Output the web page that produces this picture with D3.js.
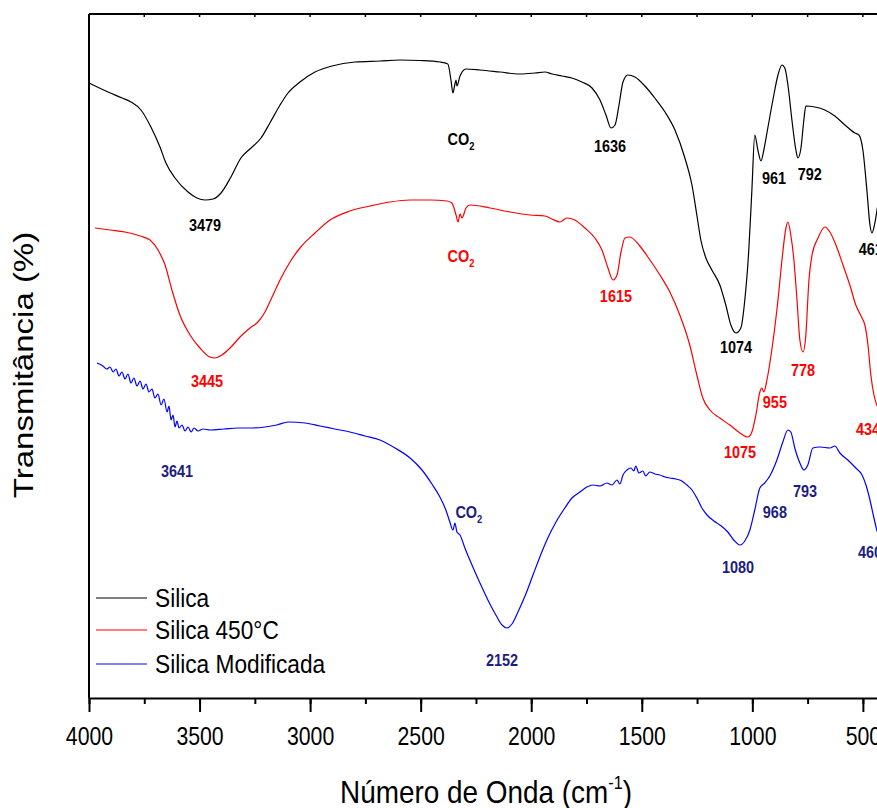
<!DOCTYPE html>
<html>
<head>
<meta charset="utf-8">
<script src="https://cdn.jsdelivr.net/npm/d3@7"></script>
<style>
  body { margin: 0; background: #fff; }
  svg { display: block; font-family: Arial, "Liberation Sans", sans-serif; }
</style>
</head>
<body>
<svg id="chart" width="877" height="808"></svg>
<script>
// Séries : [nombre d'onde (cm-1), transmittance (u.a.)]
const silica = [
  [4000, 61.4], [3914, 60.5], [3850, 59.9], [3810, 59.5], [3765, 58.7], [3720, 57.0],
  [3679, 55.0], [3652, 53.4], [3611, 51.9], [3552, 50.5], [3512, 49.9], [3475, 49.7],
  [3439, 49.8], [3403, 50.4], [3358, 52.0], [3313, 53.9], [3267, 54.9], [3222, 55.9],
  [3182, 57.4], [3136, 59.2], [3100, 60.4], [3046, 61.5], [2978, 62.5], [2901, 63.1],
  [2797, 63.5], [2684, 63.6], [2594, 63.7], [2503, 63.65], [2413, 63.5], [2377, 63.3],
  [2363, 61.7], [2354, 60.4], [2345, 61.3], [2340, 61.7], [2336, 61.1], [2322, 62.1],
  [2295, 62.8], [2232, 62.7], [2141, 62.5], [2051, 62.3], [1983, 62.4], [1938, 62.5],
  [1906, 62.3], [1861, 62.1], [1816, 61.9], [1771, 61.5], [1725, 60.9], [1689, 59.7],
  [1662, 58.2], [1639, 56.9], [1621, 57.2], [1603, 59.2], [1585, 61.5], [1563, 62.2],
  [1531, 62.0], [1486, 61.1], [1441, 59.9], [1395, 58.5], [1350, 56.7], [1305, 53.9],
  [1273, 51.2], [1251, 48.2], [1233, 45.7], [1210, 43.9], [1183, 42.7], [1147, 41.2],
  [1120, 39.2], [1097, 37.2], [1074, 36.4], [1052, 36.9], [1034, 39.7], [1016, 44.7],
  [1002, 50.7], [989, 56.2], [975, 54.7], [961, 53.6], [948, 54.7], [930, 56.9],
  [907, 59.7], [884, 62.2], [866, 63.2], [853, 62.9], [839, 61.2], [821, 57.7],
  [803, 54.7], [794, 53.9], [780, 54.9], [767, 57.7], [758, 59.1], [717, 59.0],
  [672, 58.7], [627, 58.1], [581, 57.2], [536, 56.4], [518, 56.2], [500, 54.7],
  [482, 50.7], [468, 47.2], [459, 46.4], [445, 47.5], [432, 49.2], [420, 50.0]
];

const silica450 = [
  [3973, 46.9], [3905, 46.7], [3837, 46.5], [3769, 46.1], [3724, 45.7], [3688, 44.7],
  [3656, 43.2], [3625, 40.7], [3589, 38.2], [3543, 36.2], [3498, 34.9], [3453, 34.0],
  [3430, 33.9], [3399, 34.2], [3362, 34.9], [3317, 36.0], [3272, 36.9], [3236, 37.5],
  [3204, 38.5], [3172, 40.0], [3136, 41.7], [3091, 43.5], [3046, 44.9], [2978, 46.4],
  [2910, 47.7], [2820, 48.6], [2729, 49.1], [2639, 49.5], [2548, 49.7], [2458, 49.7],
  [2381, 49.6], [2359, 49.4], [2340, 48.2], [2331, 47.5], [2322, 48.3], [2313, 47.9],
  [2295, 48.9], [2277, 49.2], [2187, 48.9], [2096, 48.5], [2006, 48.2], [1938, 48.1],
  [1906, 47.8], [1870, 47.5], [1839, 47.9], [1803, 47.7], [1757, 46.9], [1712, 45.9],
  [1680, 44.7], [1653, 42.9], [1630, 41.7], [1612, 42.2], [1594, 44.5], [1576, 45.9],
  [1554, 46.0], [1509, 45.1], [1463, 43.7], [1418, 42.2], [1373, 40.5], [1328, 38.2],
  [1283, 35.2], [1251, 32.2], [1224, 29.9], [1192, 28.7], [1147, 27.9], [1102, 27.2],
  [1056, 26.4], [1020, 26.0], [1002, 26.5], [984, 28.2], [966, 30.5], [957, 30.9],
  [948, 30.5], [934, 31.7], [912, 34.7], [884, 39.7], [866, 43.7], [848, 46.9],
  [839, 47.5], [826, 46.2], [812, 43.7], [798, 39.7], [785, 35.7], [771, 34.5],
  [758, 36.2], [744, 41.7], [730, 44.2], [703, 45.9], [672, 47.0], [649, 46.5],
  [622, 45.2], [590, 43.2], [559, 41.2], [532, 39.2], [504, 37.9], [491, 37.2],
  [477, 35.2], [464, 32.2], [450, 30.2], [437, 29.2], [423, 28.7]
];

const silicaMod = [
  [3964, 33.4], [3937, 33.1], [3919, 32.8], [3905, 33.0], [3891, 32.5], [3878, 32.8],
  [3864, 32.1], [3851, 32.5], [3837, 31.8], [3824, 32.3], [3810, 31.4], [3797, 31.9],
  [3783, 31.1], [3769, 31.6], [3756, 30.8], [3742, 31.3], [3729, 30.5], [3715, 30.8],
  [3702, 29.9], [3688, 30.3], [3674, 29.2], [3661, 29.8], [3647, 28.5], [3638, 29.1],
  [3629, 27.7], [3620, 28.2], [3611, 27.0], [3602, 27.6], [3593, 26.9], [3579, 27.2],
  [3566, 26.6], [3552, 27.0], [3538, 26.5], [3525, 26.9], [3507, 26.6], [3484, 26.8],
  [3453, 26.7], [3390, 26.8], [3326, 26.9], [3264, 26.9], [3204, 27.0], [3150, 27.2],
  [3100, 27.5], [3023, 27.4], [2955, 27.1], [2888, 26.8], [2820, 26.5], [2752, 26.1],
  [2684, 25.7], [2616, 24.9], [2548, 23.9], [2494, 22.7], [2449, 21.3], [2413, 20.0],
  [2386, 18.7], [2368, 17.5], [2354, 16.7], [2345, 17.4], [2336, 16.5], [2322, 16.2],
  [2300, 14.9], [2268, 13.2], [2232, 11.4], [2196, 9.7], [2160, 8.2], [2132, 7.2],
  [2110, 6.9], [2087, 7.3], [2060, 8.5], [2028, 10.1], [1992, 12.2], [1952, 14.5],
  [1925, 15.9], [1888, 17.5], [1848, 18.9], [1816, 19.9], [1780, 20.5], [1748, 21.0],
  [1721, 21.2], [1689, 21.1], [1658, 21.4], [1635, 21.2], [1612, 21.7], [1599, 21.3],
  [1585, 22.2], [1567, 22.7], [1549, 22.9], [1536, 22.6], [1527, 23.1], [1513, 22.4],
  [1495, 22.6], [1482, 22.1], [1464, 22.5], [1441, 22.3], [1418, 22.2], [1395, 22.0],
  [1373, 21.9], [1346, 21.8], [1319, 21.6], [1296, 21.2], [1273, 20.7], [1251, 19.9],
  [1228, 18.9], [1205, 18.2], [1174, 17.6], [1147, 17.2], [1111, 16.5], [1084, 15.7],
  [1056, 15.2], [1034, 15.6], [1011, 16.7], [989, 18.7], [966, 20.9], [944, 21.4],
  [921, 22.1], [889, 23.7], [862, 25.5], [839, 26.7], [826, 26.5], [808, 24.9],
  [785, 23.4], [767, 22.7], [749, 23.2], [726, 24.9], [694, 25.0], [649, 24.9],
  [627, 25.1], [604, 24.4], [568, 23.7], [532, 22.9], [504, 22.2], [486, 21.2],
  [468, 19.7], [450, 17.9], [437, 16.7], [423, 15.9]
];

const SERIES_NAMES = ["Silica", "Silica 450°C", "Silica Modificada"];

// Bandes annotées : [nombre d'onde, transmittance, texte]
const silicaPeaks = [
  [3475, 46.6, "3479"], [2318, 55.2, "CO2"], [1644, 54.5, "1636"], [1074, 34.4, "1074"],
  [902, 51.3, "961"], [740, 51.7, "792"], [464, 44.2, "461"]
];
const silica450Peaks = [
  [3466, 31.0, "3445"], [2318, 43.5, "CO2"], [1617, 39.5, "1615"], [1056, 23.9, "1075"],
  [898, 28.9, "955"], [771, 32.1, "778"], [477, 26.2, "434"]
];
const silicaModPeaks = [
  [3602, 22.0, "3641"], [2282, 17.9, "CO2"], [2132, 3.1, "2152"], [1065, 12.4, "1080"],
  [898, 17.9, "968"], [762, 20.0, "793"], [468, 13.9, "460"]
];

const X_TICKS = [4000, 3500, 3000, 2500, 2000, 1500, 1000, 500];
const X_MINOR = d3.range(4000, 399, -250);

const SVG = d3.select("#chart");
const MARGIN = { top: 14, bottom: 110, left: 89 };
const HEIGHT = 808;
const SQUEEZE = 0.85;   // la figure d'origine est légèrement écrasée en largeur

const X = d3.scaleLinear().domain([4000, 400]).range([MARGIN.left, 885]);
const Y = d3.scaleLinear().domain([0, 68.3]).range([HEIGHT - MARGIN.bottom - 1, MARGIN.top]);

const LINE = d3.line()
  .x(d => X(d[0]))
  .y(d => Y(d[1]))
  .curve(d3.curveMonotoneX);

const series = [
  { data: silica, peaks: silicaPeaks, color: "#000000", label: "#000000" },
  { data: silica450, peaks: silica450Peaks, color: "#ff0000", label: "#ff0000" },
  { data: silicaMod, peaks: silicaModPeaks, color: "#0000ff", label: "#1c1c80" }
];

// Courbes
series.forEach(s => {
  SVG.append("path")
    .datum(s.data)
    .attr("fill", "none")
    .attr("stroke", s.color)
    .attr("stroke-width", 1.2)
    .attr("d", LINE);
});

// Étiquettes des bandes
series.forEach(s => {
  s.peaks.forEach(p => {
    const t = SVG.append("text")
      .attr("transform", `translate(${X(p[0])},${Y(p[1])}) scale(${SQUEEZE},1)`)
      .attr("text-anchor", "middle")
      .attr("font-size", 17)
      .attr("font-weight", "bold")
      .attr("fill", s.label);
    if (p[2] === "CO2") {
      t.append("tspan").text("CO");
      t.append("tspan").attr("font-size", 11).attr("dy", 5).text("2");
    } else {
      t.text(p[2]);
    }
  });
});

// Cadre : gauche et haut
const BOTTOM = HEIGHT - MARGIN.bottom;
SVG.append("line").attr("x1", MARGIN.left).attr("x2", MARGIN.left)
  .attr("y1", MARGIN.top).attr("y2", BOTTOM)
  .attr("stroke", "#000").attr("stroke-width", 2);
SVG.append("line").attr("x1", MARGIN.left).attr("x2", 885)
  .attr("y1", MARGIN.top).attr("y2", MARGIN.top)
  .attr("stroke", "#000").attr("stroke-width", 2);

// Petites graduations vers l'intérieur en haut
SVG.selectAll("line.top-tick")
  .data(X_MINOR)
  .enter()
  .append("line")
  .attr("class", "top-tick")
  .attr("x1", d => X(d)).attr("x2", d => X(d))
  .attr("y1", MARGIN.top).attr("y2", MARGIN.top + 3)
  .attr("stroke", "#000").attr("stroke-width", 1.5);

// Axe du bas
const AXIS = SVG.append("g").attr("transform", `translate(0,${BOTTOM})`);
AXIS.call(d3.axisBottom(X).tickValues(X_MINOR).tickSize(6).tickSizeOuter(0).tickFormat(""));
AXIS.call(g => g.selectAll(".tick line").attr("stroke-width", 2));
AXIS.select(".domain").attr("stroke-width", 2);

const AXIS_MAJOR = SVG.append("g").attr("transform", `translate(0,${BOTTOM})`);
AXIS_MAJOR.call(d3.axisBottom(X).tickValues(X_TICKS).tickSize(14).tickSizeOuter(0).tickFormat(d3.format("d")));
AXIS_MAJOR.select(".domain").remove();
AXIS_MAJOR.selectAll(".tick line").attr("stroke-width", 2);
AXIS_MAJOR.selectAll(".tick text")
  .attr("y", 47).attr("dy", 0)
  .attr("font-size", 25)
  .attr("font-family", "Arial, 'Liberation Sans', sans-serif")
  .attr("fill", "#000")
  .attr("transform", `scale(${SQUEEZE},1)`);

// Titres des axes
const XT = SVG.append("text")
  .attr("transform", `translate(486,803) scale(0.9,1)`)
  .attr("text-anchor", "middle")
  .attr("font-size", 31)
  .attr("fill", "#000");
XT.append("tspan").text("Número de Onda (cm");
XT.append("tspan").attr("font-size", 18).attr("dy", -14).text("-1");
XT.append("tspan").attr("dy", 14).text(")");

SVG.append("text")
  .attr("transform", `translate(33,365) scale(${SQUEEZE},1) rotate(-90)`)
  .attr("text-anchor", "middle")
  .attr("font-size", 33)
  .attr("fill", "#000")
  .text("Transmitância (%)");

// Légende
const LEGEND = SVG.append("g");
const LEGEND_Y = [598, 630, 664];
series.forEach((s, i) => {
  LEGEND.append("line")
    .attr("x1", 96).attr("x2", 147)
    .attr("y1", LEGEND_Y[i]).attr("y2", LEGEND_Y[i])
    .attr("stroke", s.color).attr("stroke-width", 1.2);
  LEGEND.append("text")
    .attr("transform", `translate(155,${LEGEND_Y[i] + 9}) scale(0.89,1)`)
    .attr("font-size", 25.5)
    .attr("fill", "#000")
    .text(SERIES_NAMES[i]);
});
</script>
</body>
</html>
